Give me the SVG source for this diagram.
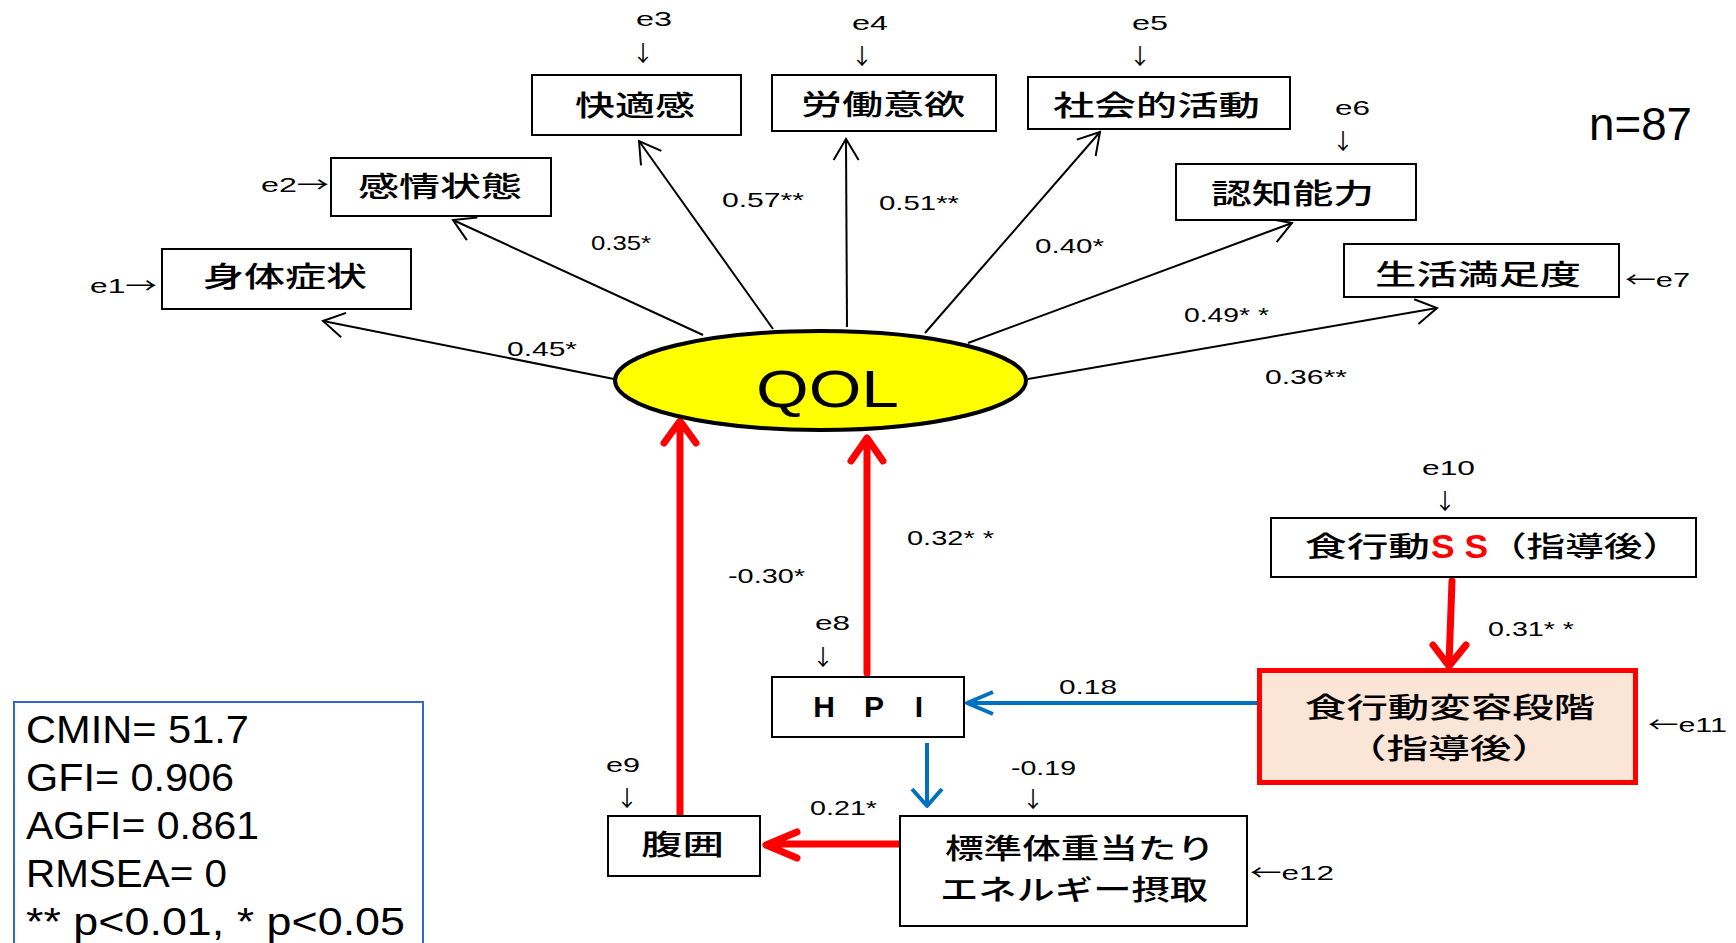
<svg xmlns="http://www.w3.org/2000/svg" width="1736" height="943" viewBox="0 0 1736 943">
<style>
.box{fill:#fff;stroke:#000;stroke-width:2}
.jp{font-family:"Noto Sans CJK JP","Liberation Sans",sans-serif;font-size:28px;font-weight:500;fill:#000}
.lbl{font-family:"Liberation Sans",Arial,"Noto Sans CJK JP",sans-serif;font-size:21px;fill:#000}
.ar{font-family:"Noto Sans CJK JP",sans-serif}
.dn{font-family:"Noto Sans CJK JP",sans-serif;font-size:22px}
.stat{font-family:"Liberation Sans",Arial,sans-serif;font-size:38px;fill:#000}
.thin{stroke:#000;stroke-width:2;fill:none}
.red{stroke:#f00;stroke-width:7;fill:none;stroke-linecap:round;stroke-linejoin:round}
.blue{stroke:#0070C0;stroke-width:4;fill:none;stroke-linejoin:round}
</style>
<defs>
<marker id="open" markerUnits="userSpaceOnUse" viewBox="-24 -15 28 30" refX="0" refY="0" markerWidth="28" markerHeight="30" orient="auto" overflow="visible">
<path d="M-21,-12.5 L0,0 L-21,12.5" fill="none" stroke="#000" stroke-width="2"/>
</marker>
</defs>
<rect width="1736" height="943" fill="#fff"/>

<g id="connectors">
<line class="thin" x1="614" y1="379" x2="323" y2="321" marker-end="url(#open)"/>
<line class="thin" x1="703" y1="335" x2="453" y2="220" marker-end="url(#open)"/>
<line class="thin" x1="773" y1="329" x2="639" y2="141" marker-end="url(#open)"/>
<line class="thin" x1="847" y1="327" x2="846" y2="139" marker-end="url(#open)"/>
<line class="thin" x1="925" y1="333" x2="1100" y2="132" marker-end="url(#open)"/>
<line class="thin" x1="968" y1="343" x2="1292" y2="223" marker-end="url(#open)"/>
<line class="thin" x1="1028" y1="379" x2="1437" y2="308" marker-end="url(#open)"/>
<path class="red" d="M680,815 V423 M664,443 L680,421 L696,443"/>
<path class="red" d="M867,673 V440 M851,461 L867,438 L883,461"/>
<path class="red" d="M1452,581 L1449,664 M1433,645 L1449,666 L1466,645"/>
<path class="red" d="M903,844 H768 M797,832 L766,845 L797,858"/>
<path class="blue" d="M1262,703 H968 M993,692 L967,703 L993,714"/>
<path class="blue" d="M927,743 V805 M912,789 L927,806 L942,789"/>
<g class="lbl">
<text x="507" y="356" textLength="70" lengthAdjust="spacingAndGlyphs">0.45*</text>
<text x="591" y="250" textLength="60" lengthAdjust="spacingAndGlyphs">0.35*</text>
<text x="722" y="207" textLength="82" lengthAdjust="spacingAndGlyphs">0.57**</text>
<text x="879" y="210" textLength="80" lengthAdjust="spacingAndGlyphs">0.51**</text>
<text x="1035" y="253" textLength="69" lengthAdjust="spacingAndGlyphs">0.40*</text>
<text x="1184" y="322" textLength="85" lengthAdjust="spacingAndGlyphs">0.49* *</text>
<text x="1265" y="384" textLength="82" lengthAdjust="spacingAndGlyphs">0.36**</text>
<text x="728" y="583" textLength="77" lengthAdjust="spacingAndGlyphs">-0.30*</text>
<text x="907" y="545" textLength="87" lengthAdjust="spacingAndGlyphs">0.32* *</text>
<text x="810" y="815" textLength="67" lengthAdjust="spacingAndGlyphs">0.21*</text>
<text x="1059" y="694" textLength="58" lengthAdjust="spacingAndGlyphs">0.18</text>
<text x="1488" y="636" textLength="86" lengthAdjust="spacingAndGlyphs">0.31* *</text>
</g>
</g>

<g id="errors" class="lbl">
<text><tspan x="636" y="26" textLength="36" lengthAdjust="spacingAndGlyphs">e3</tspan><tspan class="dn" x="632" y="61">↓</tspan></text>
<text><tspan x="852" y="30" textLength="36" lengthAdjust="spacingAndGlyphs">e4</tspan><tspan class="dn" x="851" y="64">↓</tspan></text>
<text><tspan x="1132" y="30" textLength="36" lengthAdjust="spacingAndGlyphs">e5</tspan><tspan class="dn" x="1129" y="64">↓</tspan></text>
<text><tspan x="1335" y="115" textLength="35" lengthAdjust="spacingAndGlyphs">e6</tspan><tspan class="dn" x="1332" y="149">↓</tspan></text>
<text><tspan x="815" y="630" textLength="35" lengthAdjust="spacingAndGlyphs">e8</tspan><tspan class="dn" x="812" y="665">↓</tspan></text>
<text><tspan x="606" y="772" textLength="34" lengthAdjust="spacingAndGlyphs">e9</tspan><tspan class="dn" x="616" y="806">↓</tspan></text>
<text><tspan x="1011" y="775" textLength="65" lengthAdjust="spacingAndGlyphs">-0.19</tspan><tspan class="dn" x="1022" y="807">↓</tspan></text>
<text><tspan x="1422" y="475" textLength="53" lengthAdjust="spacingAndGlyphs">e10</tspan><tspan class="dn" x="1434" y="509">↓</tspan></text>
<text x="261" y="192" textLength="68" lengthAdjust="spacingAndGlyphs">e2<tspan class="ar">→</tspan></text>
<text x="90" y="293" textLength="67" lengthAdjust="spacingAndGlyphs">e1<tspan class="ar">→</tspan></text>
<text x="1625" y="287" textLength="65" lengthAdjust="spacingAndGlyphs"><tspan class="ar">←</tspan>e7</text>
<text x="1648" y="732" textLength="79" lengthAdjust="spacingAndGlyphs"><tspan class="ar">←</tspan>e11</text>
<text x="1250" y="880" textLength="84" lengthAdjust="spacingAndGlyphs"><tspan class="ar">←</tspan>e12</text>
</g>

<g id="n-qol">
<ellipse cx="820.5" cy="380.5" rx="205.5" ry="49.5" fill="#ffff00" stroke="#000" stroke-width="4"/>
<text x="756" y="407" font-family="Liberation Sans, Arial, sans-serif" font-size="51" textLength="143" lengthAdjust="spacingAndGlyphs">QOL</text>
</g>
<g id="n-shintai"><rect class="box" x="162" y="249" width="249" height="60"/><text class="jp" x="203" y="287" textLength="164" lengthAdjust="spacingAndGlyphs">身体症状</text></g>
<g id="n-kanjo"><rect class="box" x="331" y="158" width="220" height="58"/><text class="jp" x="358" y="197" textLength="164" lengthAdjust="spacingAndGlyphs">感情状態</text></g>
<g id="n-kaiteki"><rect class="box" x="532" y="75" width="209" height="60"/><text class="jp" x="575" y="116" textLength="120" lengthAdjust="spacingAndGlyphs">快適感</text></g>
<g id="n-rodo"><rect class="box" x="772" y="75" width="224" height="56"/><text class="jp" x="801" y="115" textLength="164" lengthAdjust="spacingAndGlyphs">労働意欲</text></g>
<g id="n-shakai"><rect class="box" x="1028" y="77" width="262" height="52"/><text class="jp" x="1053" y="116" textLength="207" lengthAdjust="spacingAndGlyphs">社会的活動</text></g>
<g id="n-ninchi"><rect class="box" x="1176" y="164" width="240" height="56"/><text class="jp" x="1211" y="204" textLength="163" lengthAdjust="spacingAndGlyphs">認知能力</text></g>
<g id="n-seikatsu"><rect class="box" x="1344" y="244" width="275" height="53"/><text class="jp" x="1375" y="285" textLength="206" lengthAdjust="spacingAndGlyphs">生活満足度</text></g>
<g id="n-hpi"><rect class="box" x="772" y="677" width="192" height="60"/><text x="824 874 919" y="717" font-family="Liberation Sans, Arial, sans-serif" font-size="30" font-weight="bold" text-anchor="middle">HPI</text></g>
<g id="n-fukui"><rect class="box" x="608" y="816" width="152" height="60"/><text class="jp" x="641" y="855" textLength="83" lengthAdjust="spacingAndGlyphs">腹囲</text></g>
<g id="n-energy"><rect class="box" x="900" y="816" width="347" height="110"/>
<text class="jp"><tspan x="945" y="859" textLength="270" lengthAdjust="spacingAndGlyphs">標準体重当たり</tspan><tspan x="940" y="900" textLength="268" lengthAdjust="spacingAndGlyphs">エネルギー摂取</tspan></text></g>
<g id="n-ss"><rect class="box" x="1271" y="518" width="425" height="59"/>
<text class="jp" y="557"><tspan x="1305" textLength="125" lengthAdjust="spacingAndGlyphs">食行動</tspan><tspan x="1431" y="558" fill="#f00" font-family="Liberation Sans, Arial, sans-serif" font-weight="bold" font-size="33" textLength="57" lengthAdjust="spacingAndGlyphs">S S</tspan><tspan x="1488" y="557" textLength="193" lengthAdjust="spacingAndGlyphs">（指導後）</tspan></text></g>
<g id="n-stage"><rect x="1259.5" y="670.5" width="376" height="112" fill="#FBE5D6" stroke="#f00" stroke-width="5"/>
<text class="jp"><tspan x="1305" y="718" textLength="290" lengthAdjust="spacingAndGlyphs">食行動変容段階</tspan><tspan x="1345" y="759" textLength="208" lengthAdjust="spacingAndGlyphs">（指導後）</tspan></text></g>

<g id="n-count"><text x="1589" y="140" font-family="Liberation Sans, Arial, sans-serif" font-size="46" textLength="103" lengthAdjust="spacingAndGlyphs">n=87</text></g>
<g id="n-stats"><rect x="14" y="702" width="409" height="260" fill="none" stroke="#3366CC" stroke-width="2"/>
<text class="stat" x="26" y="743" textLength="223" lengthAdjust="spacingAndGlyphs">CMIN= 51.7</text>
<text class="stat" x="26" y="791" textLength="208" lengthAdjust="spacingAndGlyphs">GFI= 0.906</text>
<text class="stat" x="26" y="839" textLength="233" lengthAdjust="spacingAndGlyphs">AGFI= 0.861</text>
<text class="stat" x="26" y="887" textLength="201" lengthAdjust="spacingAndGlyphs">RMSEA= 0</text>
<text class="stat" x="26" y="935" textLength="379" lengthAdjust="spacingAndGlyphs">** p&lt;0.01, * p&lt;0.05</text>
</g>
</svg>
